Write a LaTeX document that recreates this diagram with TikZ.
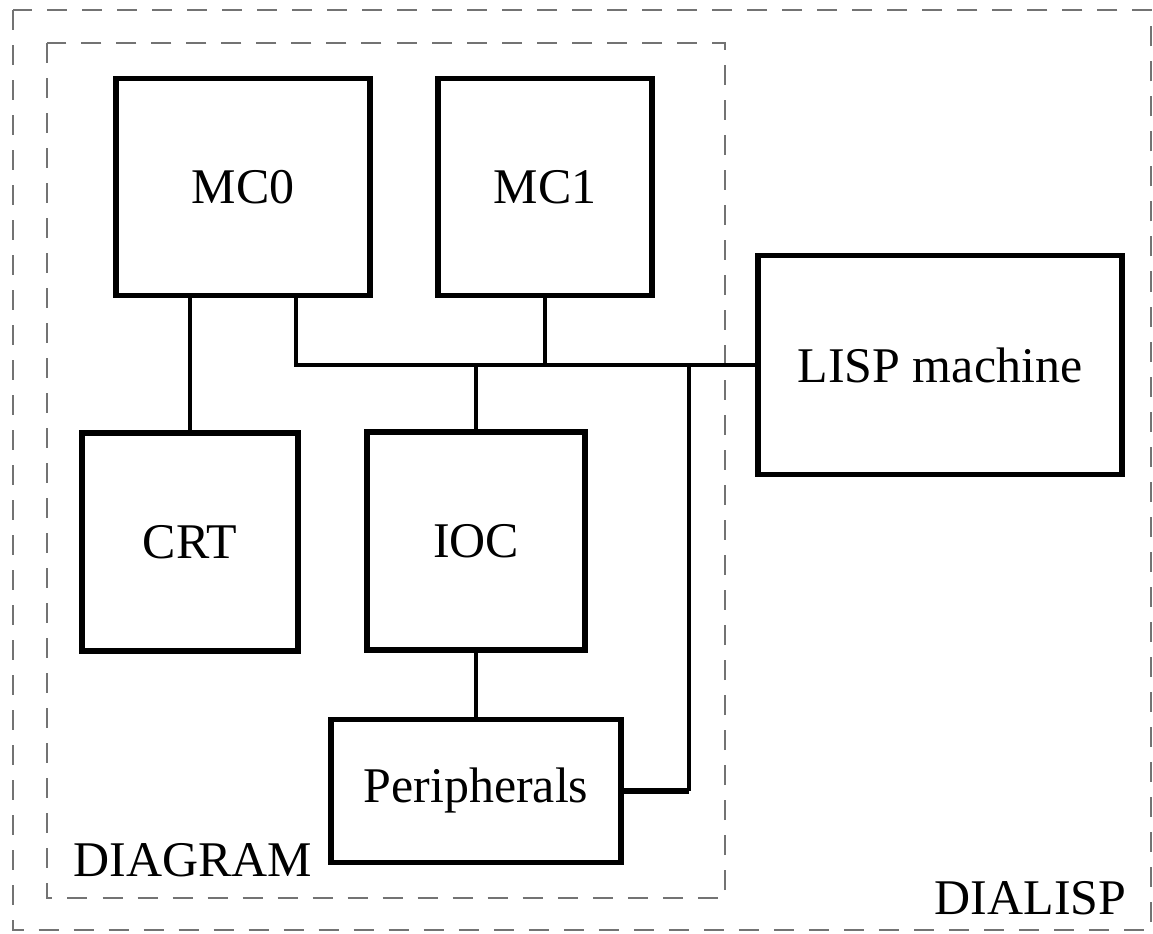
\documentclass[tikz,border=0pt]{standalone}
\usepackage{fontspec}
\setmainfont{Liberation Serif}
\usetikzlibrary{positioning, calc}

\tikzset{
    unitbox/.style={draw, rectangle, line width=1.5pt, inner sep=0pt, font=\fontsize{14.2}{17}\selectfont},
    thinlink/.style={line width=0.9pt},
    thicklink/.style={line width=1.3pt},
    frame/.style={draw=black!55, line width=0.6pt, dash pattern=on 0.2cm off 0.15cm},
    framelabel/.style={font=\fontsize{14.2}{17}\selectfont, inner sep=0pt}
}

\begin{document}
\begin{tikzpicture}[x=0.01cm, y=-0.01cm]
    \useasboundingbox (0,0) rectangle (1153,934);

    % dashed frames
    \draw[frame] (13,10) rectangle (1151,930);
    \draw[frame] (47,43) rectangle (725,898);
    \node[framelabel, anchor=base west] (diagram) at (73,877) {DIAGRAM};
    \node[framelabel, anchor=base east] (dialisp) at (1127,915) {DIALISP};

    % units
    \node[unitbox, minimum width=2.54cm, minimum height=2.17cm] (mc0) at (243,187) {MC0};
    \node[unitbox, minimum width=2.14cm, minimum height=2.17cm] (mc1) at (545,187) {MC1};
    \node[unitbox, minimum width=3.64cm, minimum height=2.19cm] (lisp) at (940,365) {LISP machine};
    \node[unitbox, minimum width=2.16cm, minimum height=2.18cm] (crt) at (190,542) {CRT};
    \node[unitbox, minimum width=2.18cm, minimum height=2.18cm] (ioc) at (476,541) {IOC};
    \node[unitbox, minimum width=2.90cm, minimum height=1.43cm] (per) at (476,791) {Peripherals};

    % bus taps
    \coordinate (b0) at (296,365);
    \coordinate (bp) at (689,365);

    \draw[thicklink] (crt.north) -- (crt.north |- mc0.south);
    \draw[thinlink] (mc0.south -| b0) -- (b0) -- (lisp.west);
    \draw[thinlink] (mc1.south) -- (mc1.south |- b0);
    \draw[thicklink] (ioc.north) -- (ioc.north |- b0);
    \draw[thicklink] (ioc.south) -- (per.north);
    \draw[line width=1.8pt] (per.east) -- (per.east -| bp);
    \draw[thinlink] (per.east -| bp) -- (bp);
\end{tikzpicture}
\end{document}
